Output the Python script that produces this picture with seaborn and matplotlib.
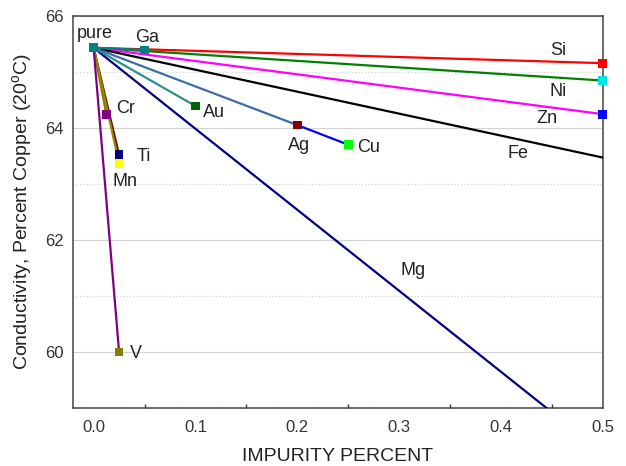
import matplotlib
matplotlib.use('Agg')
import matplotlib.pyplot as plt
import seaborn as sns
from matplotlib.ticker import MultipleLocator

# conductivity of copper with impurities
pure = (0.0, 65.43)
elements = ['Si', 'Ni', 'Zn', 'Fe', 'Mg', 'Ga', 'Au', 'Ag', 'Cu', 'Cr', 'Ti', 'Mn', 'V']
impurity = [0.5, 0.5, 0.5, 0.5, 0.5, 0.05, 0.1, 0.2, 0.25, 0.0125, 0.025, 0.025, 0.025]
conductivity = [65.155, 64.845, 64.245, 63.47, 58.2, 65.39, 64.39, 64.05, 63.70, 64.24, 63.52, 63.37, 60.0]
# segment start: pure copper, except Cu which continues from Ag
start_from = ['pure'] * 8 + ['Ag'] + ['pure'] * 4

line_colors = {'Si': '#ff0000', 'Ni': '#008000', 'Zn': '#ff00ff', 'Fe': '#000000',
               'Mg': '#000080', 'Ga': '#008080', 'Au': '#2f8f8f', 'Ag': '#3a6ea5',
               'Cu': '#0000ff', 'Cr': '#808000', 'Ti': '#800000', 'Mn': '#8b8b00',
               'V': '#800080'}
marker_colors = {'Si': '#ff0000', 'Ni': '#00e5e5', 'Zn': '#0000ff', 'Fe': None,
                 'Mg': None, 'Ga': '#008080', 'Au': '#006400', 'Ag': '#800000',
                 'Cu': '#00ff00', 'Cr': '#800080', 'Ti': '#000080', 'Mn': '#ffff00',
                 'V': '#808000'}
# label offsets (points) relative to each marker
label_offsets = {'Si': (-32, 9), 'Ni': (-32, -8), 'Zn': (-40, -3), 'Fe': (-61, 3),
                 'Ga': (2, 9), 'Au': (13, -5), 'Ag': (1, -15), 'Cu': (15, -2),
                 'Cr': (14, 4), 'Ti': (18, -1), 'Mn': (4, -13), 'V': (12, -1)}

sns.set_style('white')
plt.rcParams['font.family'] = ['Liberation Sans', 'DejaVu Sans']

fig = plt.figure(figsize=(6.26, 4.66), dpi=100)
ax = fig.add_axes([0.117, 0.1245, 0.846, 0.8415])

pts = dict(zip(elements, zip(impurity, conductivity)))
pts['pure'] = pure

for el, x, y, s in zip(elements, impurity, conductivity, start_from):
    x0, y0 = pts[s]
    sns.lineplot(x=[x0, x], y=[y0, y], color=line_colors[el], lw=1.6, ax=ax,
                 sort=False, zorder=3)

for el, x, y in zip(elements, impurity, conductivity):
    if marker_colors[el] is not None:
        sns.scatterplot(x=[x], y=[y], marker='s', s=40, color=marker_colors[el],
                        edgecolor='none', ax=ax, zorder=5, clip_on=False)
    if el in label_offsets:
        ax.annotate(el, (x, y), xytext=label_offsets[el], textcoords='offset points',
                    ha='center', va='center', fontsize=13, color='#222222')

sns.scatterplot(x=[pure[0]], y=[pure[1]], marker='s', s=45, color='#008080',
                edgecolor='none', ax=ax, zorder=6)
ax.annotate('pure', pure, xytext=(1, 10.5), textcoords='offset points',
            ha='center', va='center', fontsize=13, color='#222222')
ax.text(0.314, 61.46, 'Mg', ha='center', va='center', fontsize=13, color='#222222')

ax.set_xlim(-0.02, 0.5)
ax.set_ylim(59, 66)
ax.xaxis.set_major_locator(MultipleLocator(0.1))
ax.xaxis.set_minor_locator(MultipleLocator(0.05))
ax.yaxis.set_major_locator(MultipleLocator(2))
ax.yaxis.set_minor_locator(MultipleLocator(1))
ax.set_xticks([0.0, 0.1, 0.2, 0.3, 0.4, 0.5])
ax.set_xticklabels(['0.0', '0.1', '0.2', '0.3', '0.4', '0.5'])

ax.grid(axis='y', which='major', color='#d4d4d4', lw=0.9, ls='-')
ax.grid(axis='y', which='minor', color='#d4d4d4', lw=0.9, ls=':')
ax.set_axisbelow(True)

ax.tick_params(axis='x', which='major', direction='in', length=5, width=1,
               labelsize=12, colors='#333333', pad=9)
ax.tick_params(axis='x', which='minor', direction='in', length=3, width=1,
               colors='#333333', bottom=True)
ax.tick_params(axis='y', which='major', direction='in', length=5, width=1,
               labelsize=12, colors='#333333', pad=7)
ax.tick_params(axis='y', which='minor', left=False, length=0)
for sp in ax.spines.values():
    sp.set_color('#444444')
    sp.set_linewidth(1.1)

ax.set_xlabel('IMPURITY PERCENT', fontsize=14, color='#222222', labelpad=9)
ax.set_ylabel('Conductivity, Percent Copper (20$^\\mathregular{o}$C)', fontsize=14,
              color='#222222', labelpad=7)

fig.savefig('out.png', dpi=100)
